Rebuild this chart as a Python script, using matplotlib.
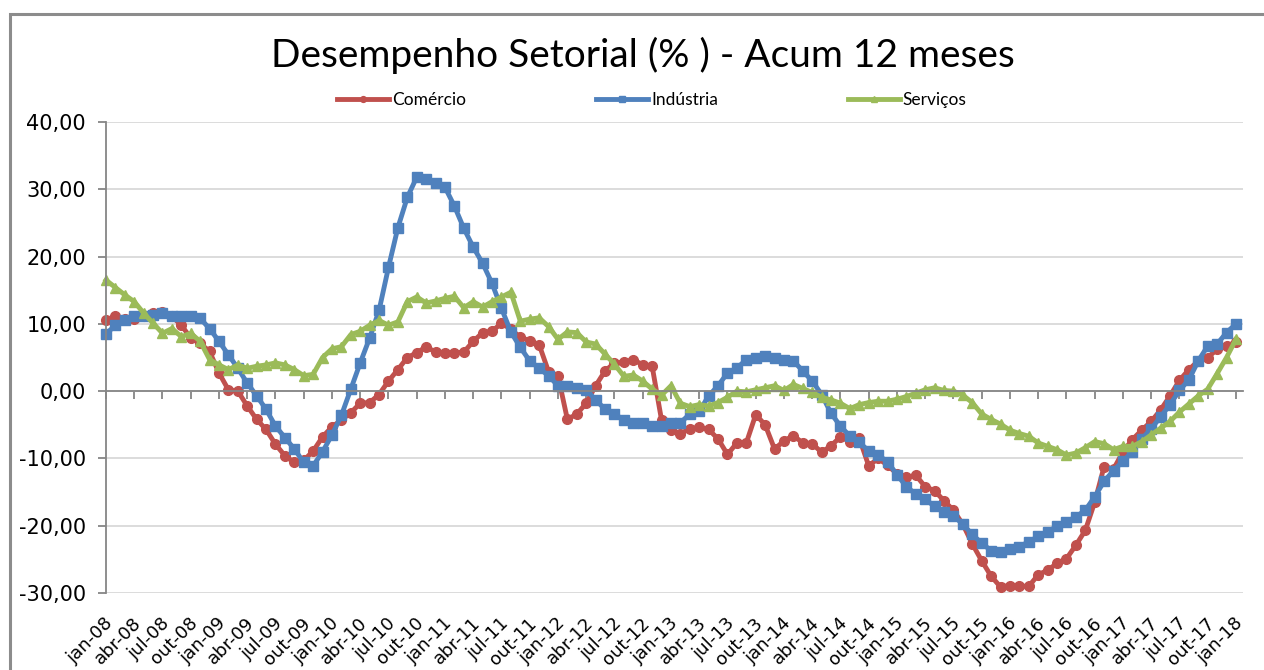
import numpy as np
import matplotlib.pyplot as plt
import matplotlib.transforms as mtransforms
from matplotlib.patches import Rectangle

# monthly 12-month accumulated change (%), jan-08 .. jan-18
comercio = [10.6, 11.1, 10.7, 10.7, 11.1, 11.6, 11.8, 11.1, 9.8, 7.9, 7.1, 5.9,
            2.7, 0.2, 0.0, -2.2, -4.2, -5.7, -7.9, -9.6, -10.6, -10.3, -8.9, -6.8,
            -5.3, -4.3, -3.2, -1.8, -1.7, -0.5, 1.5, 3.2, 5.0, 5.7, 6.6, 5.8,
            5.7, 5.7, 5.8, 7.4, 8.7, 8.9, 10.1, 9.2, 8.0, 7.5, 6.9, 2.9,
            2.3, -4.2, -3.4, -1.8, 0.8, 3.0, 4.2, 4.3, 4.7, 3.9, 3.7, -4.3,
            -5.8, -6.3, -5.6, -5.4, -5.7, -7.1, -9.4, -7.7, -7.7, -3.5, -5.0, -8.6,
            -7.4, -6.6, -7.7, -7.8, -9.1, -8.1, -6.8, -7.5, -7.0, -11.1, -10.0, -11.0,
            -12.3, -12.8, -12.5, -14.2, -14.8, -16.3, -17.7, -19.8, -22.7, -25.2, -27.5, -29.1,
            -28.9, -29.0, -29.0, -27.3, -26.6, -25.6, -24.9, -22.9, -20.7, -16.5, -11.2, -11.6,
            -9.0, -7.2, -5.8, -4.5, -2.8, -0.7, 1.6, 3.2, 4.5, 5.0, 6.2, 6.7,
            7.3]
industria = [8.5, 9.8, 10.6, 11.2, 11.1, 11.3, 11.6, 11.1, 11.1, 11.1, 10.8, 9.3,
             7.4, 5.4, 3.4, 1.2, -0.7, -2.7, -5.2, -6.9, -8.6, -10.6, -11.1, -9.0,
             -6.5, -3.6, 0.3, 4.2, 7.9, 12.0, 18.4, 24.3, 28.8, 31.8, 31.6, 31.0,
             30.3, 27.5, 24.2, 21.4, 19.0, 16.0, 12.3, 8.8, 6.5, 4.5, 3.4, 2.3,
             0.8, 0.7, 0.5, 0.2, -1.3, -2.7, -3.4, -4.3, -4.7, -4.7, -5.2, -5.2,
             -4.7, -4.7, -3.4, -3.0, -0.7, 0.8, 2.7, 3.4, 4.7, 4.9, 5.2, 4.9,
             4.7, 4.5, 3.0, 1.5, -0.5, -3.3, -5.2, -6.7, -7.6, -8.9, -9.5, -10.5,
             -12.4, -14.2, -15.3, -16.1, -17.1, -17.9, -18.5, -19.8, -21.3, -22.6, -23.7, -23.9,
             -23.4, -23.1, -22.4, -21.6, -20.9, -20.1, -19.4, -18.7, -17.7, -15.7, -13.4, -11.8,
             -10.4, -9.0, -7.1, -5.6, -3.8, -2.0, 0.1, 1.7, 4.5, 6.7, 7.0, 8.7,
             10.0]
servicos = [16.5, 15.4, 14.3, 13.3, 11.6, 10.1, 8.6, 9.3, 8.1, 8.6, 7.4, 4.7,
            3.9, 3.2, 3.9, 3.4, 3.7, 3.9, 4.2, 3.9, 3.2, 2.3, 2.5, 5.0,
            6.3, 6.6, 8.4, 8.9, 9.8, 10.5, 9.8, 10.3, 13.3, 14.0, 13.1, 13.4,
            13.8, 14.1, 12.4, 13.3, 12.5, 13.3, 14.0, 14.7, 10.4, 10.7, 10.9, 9.6,
            7.7, 8.8, 8.7, 7.3, 7.0, 5.5, 4.0, 2.2, 2.4, 1.5, 0.3, -0.6,
            0.8, -1.8, -2.3, -2.0, -2.2, -1.7, -0.9, 0.0, -0.1, 0.2, 0.5, 0.8,
            0.1, 1.0, 0.4, -0.2, -0.9, -1.3, -1.8, -2.6, -2.0, -1.7, -1.5, -1.5,
            -1.2, -0.8, -0.3, 0.2, 0.5, 0.1, 0.0, -0.6, -1.7, -3.4, -4.2, -4.9,
            -5.8, -6.3, -6.7, -7.7, -8.2, -8.7, -9.5, -9.2, -8.4, -7.5, -7.8, -8.7,
            -8.2, -8.2, -7.5, -6.5, -5.5, -4.5, -3.1, -1.9, -0.7, 0.3, 2.6, 5.0,
            7.7]

# one label every 3 months
tick_labels = [f"{m}-{y:02d}" for y in range(8, 18) for m in ["jan", "abr", "jul", "out"]] + ["jan-18"]
yticks = [-30, -20, -10, 0, 10, 20, 30, 40]

W, H = 1264, 670
fig = plt.figure(figsize=(W / 100, H / 100), dpi=100)
ax = fig.add_axes([106 / W, 1 - 593 / H, (1243 - 106) / W, (593 - 122) / H])

# outer chart border (cut at right / bottom like the screenshot)
fig.patches.append(Rectangle((10 / W, -0.05), 1.1, 1 - 14 / H + 0.05, transform=fig.transFigure,
                             fill=False, edgecolor="#8c8c8c", lw=2.2))

x = np.arange(len(comercio))
ax.plot(x, comercio, color="#C0504D", lw=3.5, marker="o", ms=7, label="Comércio", clip_on=False)
ax.plot(x, industria, color="#4F81BD", lw=3.5, marker="s", ms=7, label="Indústria", clip_on=False)
ax.plot(x, servicos, color="#9BBB59", lw=3.5, marker="^", ms=7, label="Serviços", clip_on=False)

ax.set_xlim(0, 120.75)
ax.set_ylim(-30, 40)
ax.set_yticks(yticks)
ax.set_yticklabels([f"{v:.2f}".replace(".", ",") for v in yticks], fontsize=15)
ax.yaxis.grid(True, color="#d9d9d9", lw=1.3)
ax.set_axisbelow(True)

for s in ["top", "right"]:
    ax.spines[s].set_visible(False)
ax.spines["left"].set_color("#868686")
ax.spines["left"].set_linewidth(1.3)
ax.spines["bottom"].set_position(("data", 0))
ax.spines["bottom"].set_color("#868686")
ax.spines["bottom"].set_linewidth(1.3)

ax.set_xticks(x[::3])
ax.tick_params(axis="x", direction="out", length=5.5, width=1.3, color="#868686", labelbottom=False)
ax.tick_params(axis="y", direction="out", length=5.5, width=1.3, color="#868686", pad=9)

trans = mtransforms.blended_transform_factory(ax.transData, ax.transAxes)
for pos, lab in zip(x[::3], tick_labels):
    ax.text(pos - 0.2, -0.045, lab, transform=trans, rotation=45, ha="right", va="top",
            rotation_mode="anchor", fontsize=13)

fig.text(643 / W, 1 - 55 / H, "Desempenho Setorial (% ) - Acum 12 meses", ha="center", va="center",
         fontsize=28, family="Lato")

ax.legend(loc="center", bbox_to_anchor=(652 / W, 1 - 100 / H), bbox_transform=fig.transFigure,
          ncol=3, frameon=False, handlelength=3.0, handletextpad=0.15, columnspacing=7.5,
          prop={"family": "Lato", "size": 12.5}, markerscale=0.6)

fig.savefig("out.png", dpi=100)
